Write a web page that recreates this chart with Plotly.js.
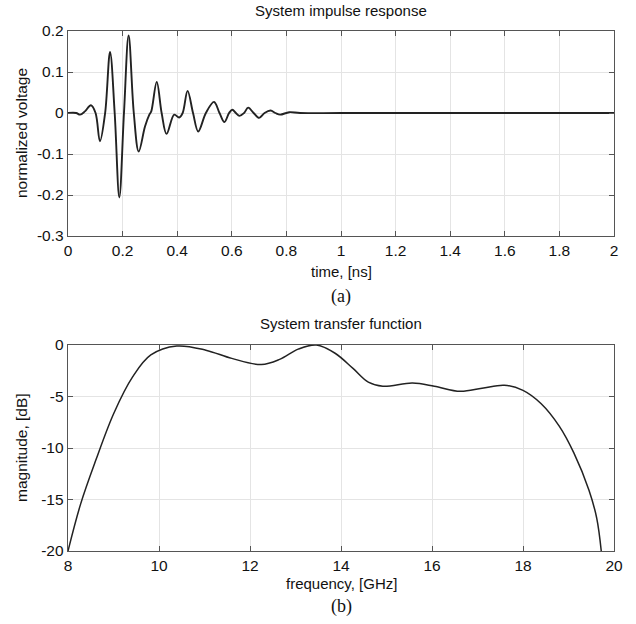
<!DOCTYPE html>
<html>
<head>
<meta charset="utf-8">
<script src="https://cdn.plot.ly/plotly-3.0.1.min.js"></script>
<style>html,body{margin:0;padding:0;background:#fff;}#chart{width:636px;height:624px;}</style>
</head>
<body>
<div id="chart"></div>
<script>
// Impulse response
const timeNs = [0, 0.03, 0.044, 0.062, 0.084, 0.101, 0.117, 0.136, 0.154, 0.171, 0.188, 0.205, 0.222, 0.241, 0.259, 0.282, 0.298, 0.305, 0.325, 0.343, 0.361, 0.389, 0.407, 0.42, 0.438, 0.458, 0.477, 0.505, 0.535, 0.555, 0.573, 0.59, 0.602, 0.615, 0.628, 0.645, 0.66, 0.68, 0.7, 0.72, 0.742, 0.76, 0.777, 0.81, 0.85, 1.0, 1.5, 2.0];
const voltage = [0, 0, -0.004, 0.004, 0.019, 0, -0.069, 0, 0.149, 0, -0.206, 0, 0.189, 0, -0.094, -0.033, -0.004, 0.004, 0.076, 0, -0.051, -0.004, -0.011, 0, 0.054, 0, -0.045, 0, 0.027, 0, -0.022, 0, 0.008, 0, -0.007, 0, 0.013, 0, -0.012, 0, 0.006, 0, -0.004, 0.002, 0, 0, 0, 0];

// Transfer function
const freqGHz = [8.0, 8.28, 8.61, 9.01, 9.42, 9.82, 10.39, 11.03, 11.6, 12.25, 12.65, 13.06, 13.46, 13.87, 14.27, 14.6, 14.92, 15.57, 16.05, 16.62, 17.1, 17.59, 18.0, 18.4, 18.8, 19.12, 19.45, 19.62, 19.72];
const magnitudeDb = [-20, -15.4, -11.2, -6.6, -3.1, -0.97, -0.1, -0.5, -1.3, -1.9, -1.4, -0.4, 0, -0.8, -2.3, -3.6, -4.0, -3.7, -4.0, -4.5, -4.2, -3.9, -4.4, -5.7, -7.9, -10.5, -14.1, -16.8, -20];

const xTicksA = [0, 0.2, 0.4, 0.6, 0.8, 1, 1.2, 1.4, 1.6, 1.8, 2];
const xTextA = ["0", "0.2", "0.4", "0.6", "0.8", "1", "1.2", "1.4", "1.6", "1.8", "2"];
const yTicksA = [-0.3, -0.2, -0.1, 0, 0.1, 0.2];
const yTextA = ["-0.3", "-0.2", "-0.1", "0", "0.1", "0.2"];
const xTicksB = [8, 10, 12, 14, 16, 18, 20];
const xTextB = ["8", "10", "12", "14", "16", "18", "20"];
const yTicksB = [-20, -15, -10, -5, 0];
const yTextB = ["-20", "-15", "-10", "-5", "0"];

const FONT = "Liberation Sans, Arial, Helvetica, sans-serif";
const SERIF = "Liberation Serif, Times New Roman, serif";
const axisCommon = {
  showline: true, linecolor: "#555", linewidth: 1.3, mirror: "allticks",
  ticks: "inside", ticklen: 5, tickcolor: "#555", tickwidth: 1,
  showgrid: true, gridcolor: "#e4e4e4", gridwidth: 1, zeroline: false,
  tickfont: {family: FONT, size: 15.5, color: "#111"}, tickmode: "array"
};

const traces = [
  {x: timeNs, y: voltage, type: "scatter", mode: "lines", xaxis: "x", yaxis: "y",
   line: {color: "#222", width: 1.9, shape: "spline", smoothing: 1}},
  {x: freqGHz, y: magnitudeDb, type: "scatter", mode: "lines", xaxis: "x2", yaxis: "y2",
   line: {color: "#222", width: 1.5, shape: "spline", smoothing: 1}}
];

function py(p) { return (551 - p) / 520; }
function px(p) { return (p - 68) / 546; }

const layout = {
  width: 636, height: 624,
  margin: {l: 68, r: 22, t: 31, b: 73},
  paper_bgcolor: "#fff", plot_bgcolor: "#fff",
  showlegend: false,
  xaxis: Object.assign({}, axisCommon, {domain: [0, 1], anchor: "y", range: [0, 2], tickvals: xTicksA, ticktext: xTextA}),
  yaxis: Object.assign({}, axisCommon, {domain: [py(236), 1], anchor: "x", range: [-0.3, 0.2], tickvals: yTicksA, ticktext: yTextA}),
  xaxis2: Object.assign({}, axisCommon, {domain: [0, 1], anchor: "y2", range: [8, 20], tickvals: xTicksB, ticktext: xTextB}),
  yaxis2: Object.assign({}, axisCommon, {domain: [0, py(345)], anchor: "x2", range: [-20, 0], tickvals: yTicksB, ticktext: yTextB}),
  annotations: [
    {text: "System impulse response", xref: "paper", yref: "paper", x: 0.5, y: py(11), showarrow: false, xanchor: "center", yanchor: "middle", font: {family: FONT, size: 15, color: "#111"}},
    {text: "time, [ns]", xref: "paper", yref: "paper", x: 0.5, y: py(271), showarrow: false, xanchor: "center", yanchor: "middle", font: {family: FONT, size: 15, color: "#111"}},
    {text: "(a)", xref: "paper", yref: "paper", x: 0.5, y: py(296), showarrow: false, xanchor: "center", yanchor: "middle", font: {family: SERIF, size: 18, color: "#111"}},
    {text: "normalized voltage", xref: "paper", yref: "paper", x: px(21), y: py(133), showarrow: false, xanchor: "center", yanchor: "middle", textangle: -90, font: {family: FONT, size: 15.5, color: "#111"}},
    {text: "System transfer function", xref: "paper", yref: "paper", x: 0.5, y: py(323), showarrow: false, xanchor: "center", yanchor: "middle", font: {family: FONT, size: 15, color: "#111"}},
    {text: "frequency, [GHz]", xref: "paper", yref: "paper", x: 0.5, y: py(583), showarrow: false, xanchor: "center", yanchor: "middle", font: {family: FONT, size: 15, color: "#111"}},
    {text: "(b)", xref: "paper", yref: "paper", x: 0.5, y: py(606), showarrow: false, xanchor: "center", yanchor: "middle", font: {family: SERIF, size: 18, color: "#111"}},
    {text: "magnitude, [dB]", xref: "paper", yref: "paper", x: px(21), y: py(448), showarrow: false, xanchor: "center", yanchor: "middle", textangle: -90, font: {family: FONT, size: 15.5, color: "#111"}}
  ]
};

Plotly.newPlot("chart", traces, layout, {staticPlot: true, displayModeBar: false});
</script>
</body>
</html>
